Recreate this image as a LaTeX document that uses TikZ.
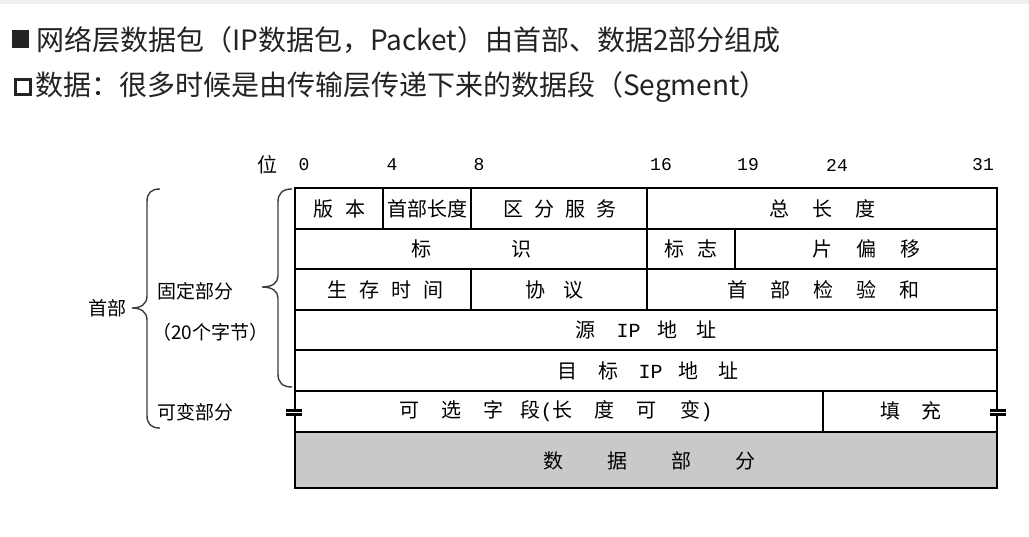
\documentclass[tikz,border=0pt]{standalone}
\usepackage{fontspec}
\setmainfont{Noto Sans CJK SC}
\newfontfamily\mono{Liberation Mono}
\newcommand\gapx[1]{\hspace{#1pt}}
\definecolor{datagray}{RGB}{201,201,201}
\definecolor{toptext}{RGB}{35,35,35}
\definecolor{bracecol}{RGB}{60,60,60}
\begin{document}
\begin{tikzpicture}[x=1pt,y=-1pt,
  cell/.style={inner sep=0pt,font=\fontsize{20}{20}\selectfont},
  bitnum/.style={inner sep=0pt,font=\mono\fontsize{18}{18}\selectfont},
  side/.style={inner sep=0pt,font=\fontsize{19}{19}\selectfont,anchor=west},
  title/.style={inner sep=0pt,anchor=west,text=toptext,font=\fontsize{28}{28}\selectfont},
  outer/.style={line width=2.6pt},
  inner/.style={line width=1.8pt},
  vert/.style={line width=1.5pt},
  bracestyle/.style={line width=1.4pt,draw=bracecol},
  breakbar/.style={fill=black}
]
\useasboundingbox (0,0) rectangle (1029,536);
\fill[white] (0,0) rectangle (1029,536);
\fill[black!6] (0,0) rectangle (1029,4);

% title lines
\fill[toptext] (12,30) rectangle (29,48);
\node[title] (t1) at (36,40) {网络层数据包（IP数据包，Packet）由首部、数据2部分组成};
\draw[toptext,line width=3pt] (15,79.5) rectangle (30.5,94.5);
\node[title] (t2) at (35,87) {数据：很多时候是由传输层传递下来的数据段（Segment）};

% bit header
\node[cell] (wei) at (267,165) {位};
\node[bitnum] (b0) at (304,165) {0};
\node[bitnum] (b4) at (392,165) {4};
\node[bitnum] (b8) at (479,165) {8};
\node[bitnum] (b16) at (661,165) {16};
\node[bitnum] (b19) at (748,165) {19};
\node[bitnum] (b24) at (837,165) {24};
\node[bitnum] (b31) at (983,165) {31};

% data fill
\fill[datagray] (295,432) rectangle (997,488);

% horizontal lines
\foreach \yy in {229,269,310,350,391} \draw[inner] (295,\yy) -- (997,\yy);
\draw[line width=2.2pt] (295,432) -- (997,432);
% vertical dividers
\draw[vert] (383,188) -- (383,229);
\draw[vert] (471,188) -- (471,229);
\draw[vert] (647,188) -- (647,310);
\draw[vert] (735,229) -- (735,269);
\draw[vert] (471,269) -- (471,310);
\draw[vert] (823,391) -- (823,432);
% outer frame
\draw[outer] (295,188) rectangle (997,488);

% break marks
\fill[white] (290,411.5) rectangle (300,413);
\fill[white] (992,411.5) rectangle (1002,413);
\fill[breakbar] (286,409) rectangle (302,411.5);
\fill[breakbar] (286,413) rectangle (302,415.5);
\fill[breakbar] (990,409) rectangle (1006,411.5);
\fill[breakbar] (990,413) rectangle (1006,415.5);

% cell texts
\node[cell] (ver) at (339,209) {版\gapx{12}本};
\node[cell] (ihl) at (427,209) {首部长度};
\node[cell] (ds) at (560,209) {区\gapx{11}分\gapx{11}服\gapx{11}务};
\node[cell] (tl) at (822,209) {总\gapx{23}长\gapx{23}度};
\node[cell] (id) at (471,249) {标\gapx{80}识};
\node[cell] (fl) at (691,249) {标\gapx{13}志};
\node[cell] (fo) at (866,249) {片\gapx{24}偏\gapx{24}移};
\node[cell] (ttl) at (385,290) {生\gapx{12}存\gapx{12}时\gapx{12}间};
\node[cell] (pr) at (554,290) {协\gapx{18}议};
\node[cell] (cs) at (823,290) {首\gapx{23}部\gapx{23}检\gapx{23}验\gapx{23}和};
\node[cell] (src) at (646,330) {源\gapx{21}{\mono IP}\gapx{17}地\gapx{19}址};
\node[cell] (dst) at (648,371) {目\gapx{21}标\gapx{20}{\mono IP}\gapx{16}地\gapx{20}址};
\node[cell] (opt) at (556,411) {可\gapx{22}选\gapx{22}字\gapx{17}段{\mono(}长\gapx{22}度\gapx{22}可\gapx{24}变{\mono)}};
\node[cell] (pad) at (911,411) {填\gapx{21}充};
\node[cell] (data) at (649,461) {数\gapx{44}据\gapx{44}部\gapx{44}分};

% left labels
\node[side] (hdr) at (88,308) {首部};
\node[side] (fix) at (157,291) {固定部分};
\node[side] (fix20) at (152,332) {（20个字节）};
\node[side] (var) at (157,412) {可变部分};

% braces
\draw[bracestyle] (160,189) .. controls (151,189) and (147,193) .. (147,202)
  -- (147,296) .. controls (147,304) and (141,308) .. (132,308)
  .. controls (141,308) and (147,312) .. (147,320)
  -- (147,415) .. controls (147,424) and (151,428) .. (160,428);
\draw[bracestyle] (292,189) .. controls (283,189) and (278,193) .. (278,202)
  -- (278,276) .. controls (278,283) and (272,287) .. (262,287)
  .. controls (272,287) and (278,291) .. (278,298)
  -- (278,374) .. controls (278,383) and (283,387) .. (292,387);
\end{tikzpicture}
\end{document}
